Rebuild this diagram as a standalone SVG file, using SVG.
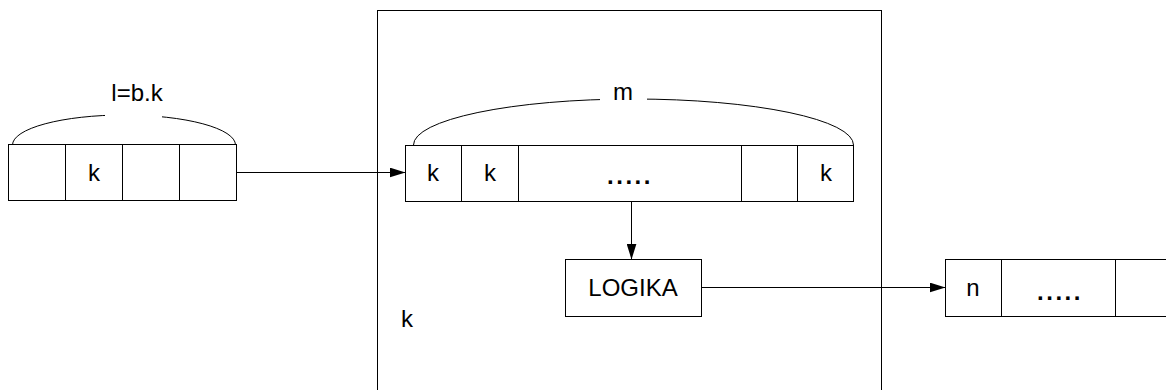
<svg xmlns="http://www.w3.org/2000/svg" width="1166" height="390" viewBox="0 0 1166 390">
  <style>
    .box { fill: #fff; stroke: #000; stroke-width: 1; }
    .div { stroke: #000; stroke-width: 1; fill: none; }
    .brace { fill: none; stroke: #000; stroke-width: 1; }
    .link { stroke: #000; stroke-width: 1; fill: none; }
    .lbl { font-family: "Liberation Sans", Arial, sans-serif; font-size: 24px; fill: #000; text-anchor: middle; }
    .dots { letter-spacing: 2.5px; font-weight: bold; }
  </style>
  <defs>
    <marker id="arrow" viewBox="0 0 16 10" refX="16" refY="5" markerWidth="16" markerHeight="10" markerUnits="userSpaceOnUse" orient="auto">
      <path d="M0,0 L16,5 L0,10 Z" fill="#000"/>
    </marker>
    <!-- gaps in the braces where their labels sit -->
    <mask id="gapL">
      <rect x="0" y="0" width="1166" height="390" fill="#fff"/>
      <rect x="105" y="100" width="57" height="30" fill="#000"/>
    </mask>
    <mask id="gapM">
      <rect x="0" y="0" width="1166" height="390" fill="#fff"/>
      <rect x="600" y="85" width="47" height="30" fill="#000"/>
    </mask>
  </defs>

  <!-- processing block -->
  <g id="block">
    <rect class="box" x="377.5" y="10.5" width="504" height="400"/>
    <text class="lbl" x="407" y="327">k</text>
  </g>

  <!-- input word: l = b.k -->
  <g id="input">
    <path class="brace" mask="url(#gapL)" d="M12.5,145 A111.5,30 0 0 1 235.5,145"/>
    <text class="lbl" x="137" y="101">l=b.k</text>
    <rect class="box" x="8.5" y="144.5" width="228" height="56"/>
    <path class="div" d="M65.5,144.5 V200.5 M122.5,144.5 V200.5 M179.5,144.5 V200.5"/>
    <text class="lbl" x="94" y="181">k</text>
  </g>

  <!-- register of m symbols -->
  <g id="register">
    <path class="brace" mask="url(#gapM)" d="M413.5,145 A220,46 0 0 1 853.5,145"/>
    <text class="lbl" x="623" y="100">m</text>
    <rect class="box" x="405.5" y="145.5" width="448" height="56"/>
    <path class="div" d="M461.5,145.5 V201.5 M518.5,145.5 V201.5 M741.5,145.5 V201.5 M797.5,145.5 V201.5"/>
    <text class="lbl" x="433" y="181">k</text>
    <text class="lbl" x="490" y="181">k</text>
    <text class="lbl dots" x="630" y="184">.....</text>
    <text class="lbl" x="826" y="181">k</text>
  </g>

  <!-- logic -->
  <g id="logika">
    <rect class="box" x="565.5" y="259.5" width="136" height="57"/>
    <text class="lbl" x="633" y="296">LOGIKA</text>
  </g>

  <!-- output word -->
  <g id="output">
    <rect class="box" x="945.5" y="259.5" width="240" height="57"/>
    <path class="div" d="M1001.5,259.5 V316.5 M1115.5,259.5 V316.5"/>
    <text class="lbl" x="973" y="296">n</text>
    <text class="lbl dots" x="1060" y="300">.....</text>
  </g>

  <!-- connectors -->
  <g id="connectors">
    <path class="link" marker-end="url(#arrow)" d="M236.5,172.5 H405.5"/>
    <path class="link" marker-end="url(#arrow)" d="M631.5,201.5 V259.5"/>
    <path class="link" marker-end="url(#arrow)" d="M701.5,287.5 H945.5"/>
  </g>
</svg>
